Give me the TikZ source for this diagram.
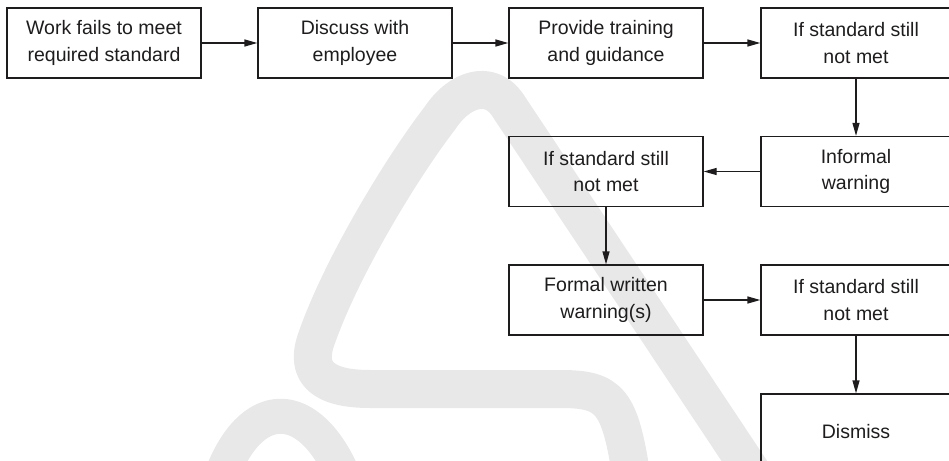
\documentclass[tikz,border=0pt]{standalone}
\usepackage{fontspec}
\setmainfont{Liberation Sans}
\usetikzlibrary{arrows.meta}
\definecolor{wm}{RGB}{232,232,232}
\definecolor{ink}{RGB}{30,28,28}
\begin{document}
\begin{tikzpicture}[x=1pt,y=-1pt,
  stepbox/.style={draw=ink, line width=1.3pt, minimum width=194pt, minimum height=70pt,
    inner sep=0pt, align=center, text=ink, font=\fontsize{19.5pt}{26.5pt}\selectfont},
  rightbox/.style={stepbox, minimum width=190pt},
  link/.style={draw=ink, line width=1.3pt, -{Triangle[length=13pt,width=7pt]}},
  wmline/.style={draw=wm, line width=38pt, line cap=butt, line join=round}
]
\useasboundingbox (0,0) rectangle (949,460);
\clip (0,0) rectangle (949,460);
% watermark
\draw[wmline] (632,480) .. controls (620,400) and (610,389) .. (560,389) -- (370,389)
  .. controls (322,389) and (305,372) .. (316,340)
  .. controls (340,270) and (400,170) .. (440,118)
  .. controls (460,88) and (490,80) .. (507,104) -- (757,480);
\draw[wmline, line width=35pt] (220,480) .. controls (250,395) and (310,395) .. (345,480);
% boxes
\node[stepbox] (a) at (104,43) {Work fails to meet\\required standard};
\node[stepbox] (b) at (355,43) {Discuss with\\employee};
\node[stepbox] (c) at (606,43) {Provide training\\and guidance};
\node[rightbox] (d) at (856,43) {If standard still\\not met};
\node[rightbox] (e) at (856,171.5) {Informal\\warning};
\node[stepbox] (f) at (606,171.5) {If standard still\\not met};
\node[stepbox] (g) at (606,300) {Formal written\\warning(s)};
\node[rightbox] (h) at (856,300) {If standard still\\not met};
\node[rightbox, minimum height=76pt] (i) at (856,432) {Dismiss};
% connectors
\draw[link] (a) -- (b);
\draw[link] (b) -- (c);
\draw[link] (c) -- (d);
\draw[link] (d) -- (e);
\draw[link] (e) -- (f);
\draw[link] (f) -- (g);
\draw[link] (g) -- (h);
\draw[link] (h) -- (i);
\end{tikzpicture}
\end{document}
